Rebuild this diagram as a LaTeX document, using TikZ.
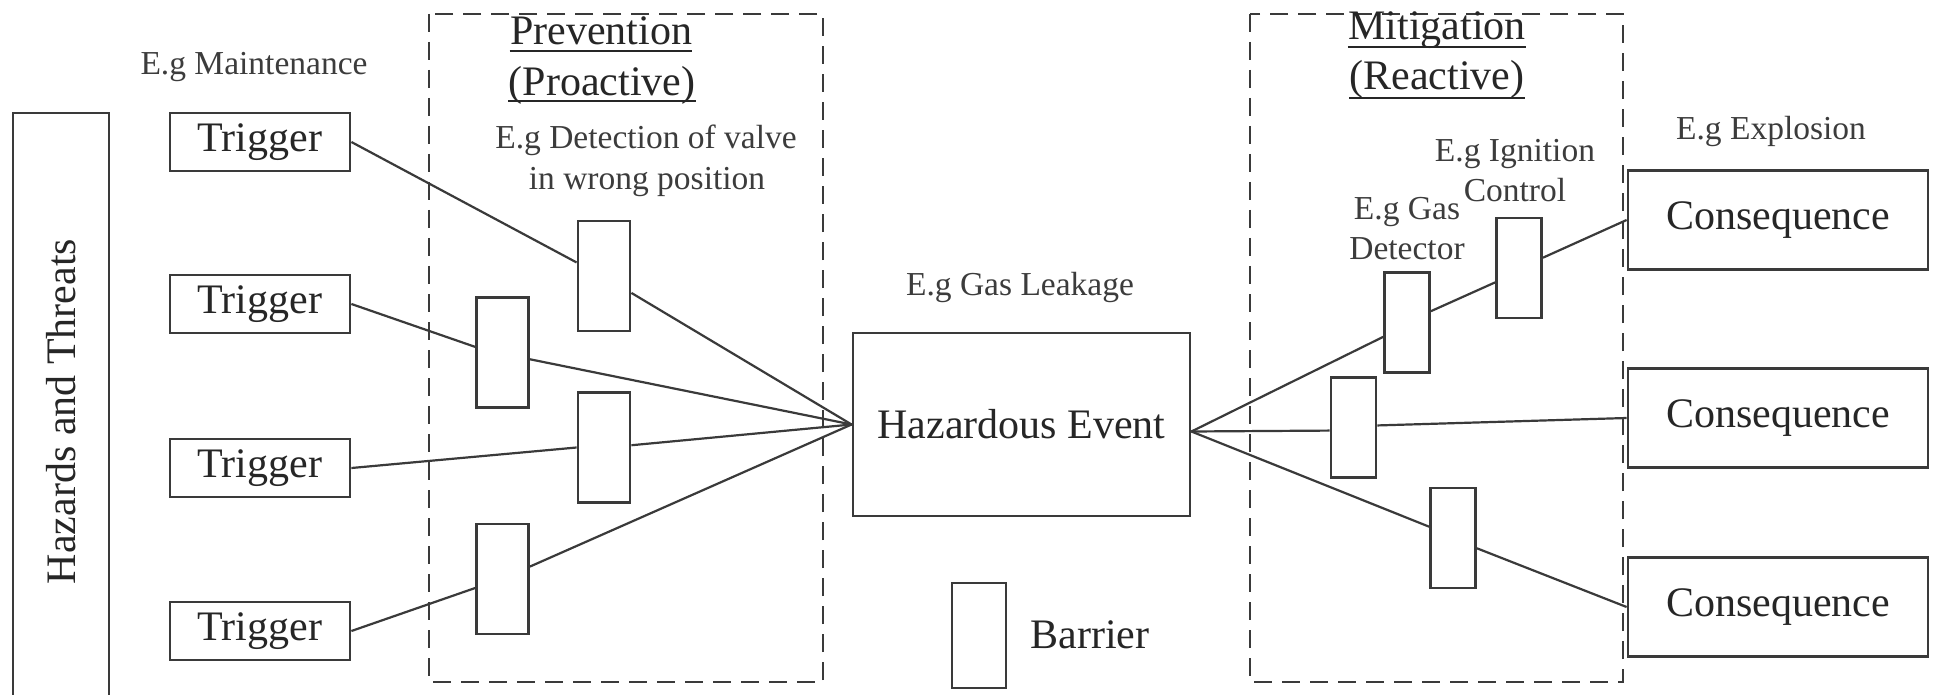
\documentclass[tikz,border=0pt]{standalone}
\usepackage{fontspec}
\setmainfont{Liberation Serif}
\usetikzlibrary{calc}
\newcommand\bigfnt{\fontsize{21pt}{25pt}\selectfont}
\newcommand\smallfnt{\fontsize{16.75pt}{20pt}\selectfont}
\definecolor{ink}{HTML}{262626}
\definecolor{lineink}{HTML}{3A3A3A}
\definecolor{lightink}{HTML}{3C3C3C}
\begin{document}
\begin{tikzpicture}[x=0.5pt,y=-0.5pt,
  box/.style={draw=lineink, line width=1.4pt, fill=white, rectangle, inner sep=0pt, font=\bigfnt, text=ink},
  barrier/.style={draw=lineink, line width=1.4pt, fill=white, rectangle, inner sep=0pt, minimum width=26pt, minimum height=55pt},
  mbarrier/.style={barrier, minimum width=22.5pt, minimum height=50pt},
  conn/.style={draw=lineink, line width=1.1pt},
  zone/.style={draw=lineink, line width=1.2pt, dash pattern=on 9pt off 5pt},
  heading/.style={font=\bigfnt, text=ink, inner sep=0pt, anchor=base},
  note/.style={font=\smallfnt, text=lightink, inner sep=0pt, anchor=base},
  uline/.style={draw=ink, line width=1.1pt}
]
\useasboundingbox (0,0) rectangle (1937,695);
\fill[white] (0,0) rectangle (1937,695);

% dashed zones
\draw[zone] (429,14) rectangle (823,682);
\draw[zone] (1250,14) rectangle (1623,682);

% main boxes
\node[box, rotate=90, minimum width=298.5pt, minimum height=48pt] (haz) at (61,411.5) {Hazards and Threats};
\node[box, minimum width=90pt, minimum height=29pt] (t1) at (260,142) {Trigger};
\node[box, minimum width=90pt, minimum height=29pt] (t2) at (260,304) {Trigger};
\node[box, minimum width=90pt, minimum height=29pt] (t3) at (260,468) {Trigger};
\node[box, minimum width=90pt, minimum height=29pt] (t4) at (260,631) {Trigger};
\node[box, minimum width=168.5pt, minimum height=91.5pt] (he) at (1021.5,424.5) {Hazardous Event};
\node[box, minimum width=150pt, minimum height=49.5pt] (c1) at (1778,220) {Consequence};
\node[box, minimum width=150pt, minimum height=49.5pt] (c2) at (1778,418) {Consequence};
\node[box, minimum width=150pt, minimum height=49.5pt] (c3) at (1778,607) {Consequence};

% barriers
\node[barrier] (b1) at (604,276) {};
\node[barrier] (b2) at (502.5,352.5) {};
\node[barrier] (b3) at (604,447.5) {};
\node[barrier] (b4) at (502.5,579) {};
\node[mbarrier] (m1) at (1407,322.5) {};
\node[mbarrier] (m2) at (1519,268) {};
\node[mbarrier] (m3) at (1353.5,427.5) {};
\node[mbarrier] (m4) at (1453,538) {};
\node[barrier, minimum width=27pt, minimum height=52.5pt] (lb) at (979,635.5) {};

\coordinate (her) at ([yshift=-3.5pt]he.east);

% prevention connectors
\draw[conn] (t1.east) -- ($(b1.north west)!0.38!(b1.south west)$);
\draw[conn] ($(b1.north east)!0.65!(b1.south east)$) -- (he.west);
\draw[conn] (t2.east) -- ($(b2.north west)!0.45!(b2.south west)$);
\draw[conn] ($(b2.north east)!0.56!(b2.south east)$) -- (he.west);
\draw[conn] (t3.east) -- ($(b3.north west)!0.50!(b3.south west)$);
\draw[conn] ($(b3.north east)!0.48!(b3.south east)$) -- (he.west);
\draw[conn] (t4.east) -- ($(b4.north west)!0.58!(b4.south west)$);
\draw[conn] ($(b4.north east)!0.39!(b4.south east)$) -- (he.west);

% mitigation connectors
\draw[conn] (her) -- ($(m1.north west)!0.64!(m1.south west)$);
\draw[conn] ($(m1.north east)!0.39!(m1.south east)$) -- ($(m2.north west)!0.64!(m2.south west)$);
\draw[conn] ($(m2.north east)!0.40!(m2.south east)$) -- (c1.west);
\draw[conn] (her) -- ($(m3.north west)!0.53!(m3.south west)$);
\draw[conn] ($(m3.north east)!0.48!(m3.south east)$) -- (c2.west);
\draw[conn] (her) -- ($(m4.north west)!0.39!(m4.south west)$);
\draw[conn] ($(m4.north east)!0.60!(m4.south east)$) -- (c3.west);

% labels
\node[note] (lmaint) at (254,75) {E.g Maintenance};
\node[heading] (lprev) at (601,45) {Prevention};
\node[heading] (lproa) at (602,96) {(Proactive)};
\draw[uline] ([yshift=-3pt]lprev.base west) -- ([yshift=-3pt]lprev.base east);
\draw[uline] ([yshift=-2.5pt]lproa.base west) -- ([yshift=-2.5pt]lproa.base east);
\node[note] (ldeta) at (646,149) {E.g Detection of valve};
\node[note] (ldetb) at (647,190) {in wrong position};
\node[note] (lleak) at (1020,295) {E.g Gas Leakage};
\node[heading] (lbar) at (1090,648) {Barrier};
\node[heading] (lmit) at (1437,40) {Mitigation};
\node[heading] (lreac) at (1437,90) {(Reactive)};
\draw[uline] ([yshift=-3.5pt]lmit.base west) -- ([yshift=-3.5pt]lmit.base east);
\draw[uline] ([yshift=-4pt]lreac.base west) -- ([yshift=-4pt]lreac.base east);
\node[note] (lexp) at (1771,140) {E.g Explosion};
\node[note] (ligna) at (1515,162) {E.g Ignition};
\node[note] (lignb) at (1515,202) {Control};
\node[note] (lgasa) at (1407,220) {E.g Gas};
\node[note] (lgasb) at (1407,260) {Detector};
\end{tikzpicture}
\end{document}
